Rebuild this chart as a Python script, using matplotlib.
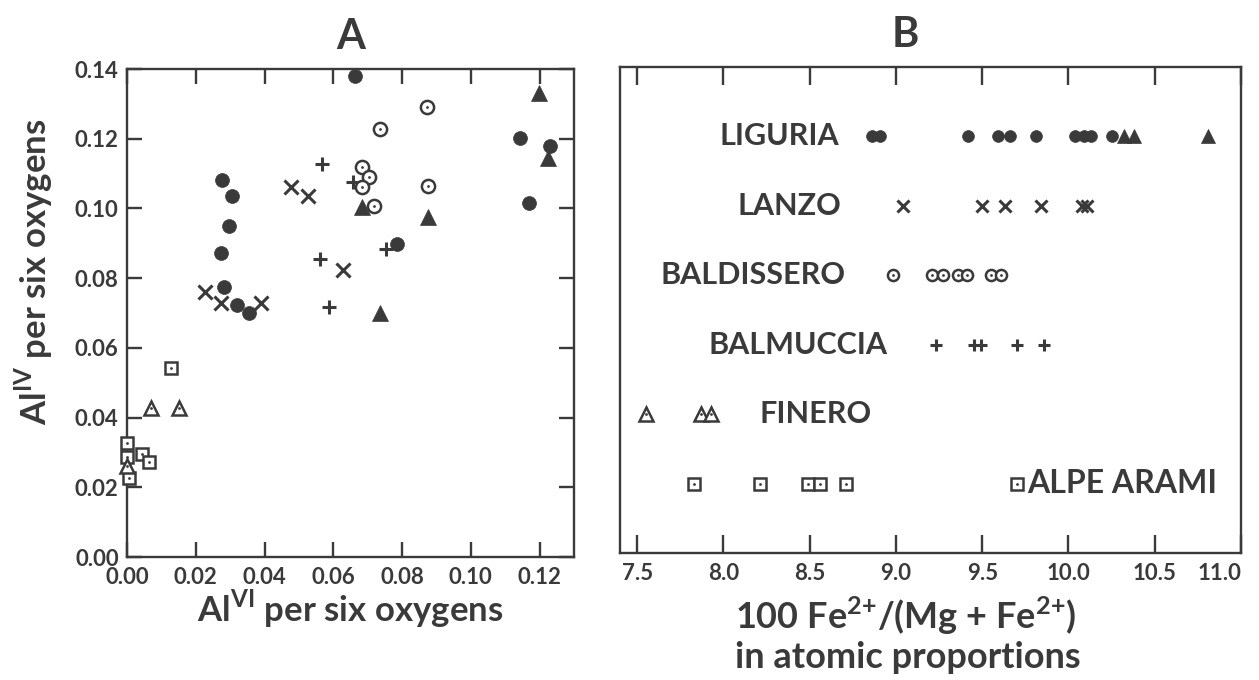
import matplotlib
matplotlib.use("Agg")
import matplotlib.pyplot as plt
from matplotlib.ticker import FormatStrFormatter, MultipleLocator

plt.rcParams['font.family'] = ['Lato', 'DejaVu Sans']
plt.rcParams['font.weight'] = 'bold'
plt.rcParams['axes.labelweight'] = 'bold'
plt.rcParams['mathtext.fontset'] = 'custom'
plt.rcParams['mathtext.rm'] = 'Lato:bold'

ink = '#3a3a3a'

# ---- panel A: AlIV vs AlVI per six oxygens ----
lig_circ_x = [0.0662, 0.1144, 0.1231, 0.1168, 0.0277, 0.0305, 0.0296, 0.0272, 0.0282, 0.0320, 0.0354, 0.0785]
lig_circ_y = [0.1380, 0.1203, 0.1179, 0.1015, 0.1081, 0.1036, 0.0950, 0.0871, 0.0774, 0.0723, 0.0699, 0.0897]
lig_tri_x = [0.1197, 0.1224, 0.0682, 0.0876, 0.0736]
lig_tri_y = [0.1330, 0.1144, 0.1005, 0.0976, 0.0701]
lanzo_x = [0.0477, 0.0526, 0.0627, 0.0226, 0.0274, 0.0390]
lanzo_y = [0.1062, 0.1036, 0.0823, 0.0761, 0.0728, 0.0730]
balm_x = [0.0566, 0.0656, 0.0561, 0.0753, 0.0588]
balm_y = [0.1127, 0.1077, 0.0855, 0.0884, 0.0718]
bald_x = [0.0873, 0.0735, 0.0683, 0.0704, 0.0683, 0.0719, 0.0875]
bald_y = [0.1292, 0.1227, 0.1118, 0.1089, 0.1061, 0.1008, 0.1065]
alpe_x = [0.0127, 0.0001, 0.0001, 0.0043, 0.0065, 0.0007]
alpe_y = [0.0541, 0.0326, 0.0288, 0.0295, 0.0273, 0.0226]
fin_x = [0.0070, 0.0152, 0.0001]
fin_y = [0.0427, 0.0427, 0.0262]

# ---- panel B: 100 Fe/(Mg+Fe) by locality ----
row_names = ['LIGURIA', 'LANZO', 'BALDISSERO', 'BALMUCCIA', 'FINERO', 'ALPE ARAMI']
row_y = [6, 5, 4, 3, 2, 1]
fe_lig_circ = [8.86, 8.91, 9.42, 9.59, 9.66, 9.81, 10.04, 10.09, 10.13, 10.25]
fe_lig_tri = [10.32, 10.38, 10.81]
fe_lanzo = [9.04, 9.50, 9.63, 9.84, 10.08, 10.11]
fe_bald = [8.98, 9.21, 9.27, 9.36, 9.41, 9.55, 9.61]
fe_balm = [9.23, 9.45, 9.49, 9.70, 9.86]
fe_fin = [7.55, 7.87, 7.93]
fe_alpe = [7.83, 8.21, 8.49, 8.56, 8.71]
fe_ticks = [7.5, 8.0, 8.5, 9.0, 9.5, 10.0, 10.5, 11.0]


def filled(ax, x, y, m, ms):
    ax.plot(x, y, ls='none', marker=m, ms=ms, mfc=ink, mec=ink, mew=0.5, clip_on=False, zorder=3)


def line_mark(ax, x, y, m, ms):
    ax.plot(x, y, ls='none', marker=m, ms=ms, color=ink, mew=2.2, clip_on=False, zorder=3)


def dotted(ax, x, y, m, ms):
    ax.plot(x, y, ls='none', marker=m, ms=ms, mfc='white', mec=ink, mew=1.8, clip_on=False, zorder=3)
    ax.plot(x, y, ls='none', marker='o', ms=2.0, color=ink, mew=0, clip_on=False, zorder=4)


fig = plt.figure(figsize=(12.59, 6.80), dpi=100)
axA = fig.add_axes([127 / 1259, 1 - 557 / 680, 447 / 1259, 488 / 680])
axB = fig.add_axes([620 / 1259, 1 - 553 / 680, 621 / 1259, 486 / 680])

for ax in (axA, axB):
    for s in ax.spines.values():
        s.set_linewidth(1.7)
        s.set_color(ink)

# panel A
filled(axA, lig_circ_x, lig_circ_y, 'o', 10)
filled(axA, lig_tri_x, lig_tri_y, '^', 11)
line_mark(axA, lanzo_x, lanzo_y, 'x', 9.5)
line_mark(axA, balm_x, balm_y, '+', 10.5)
dotted(axA, bald_x, bald_y, 'o', 9.5)
dotted(axA, alpe_x, alpe_y, 's', 9)
dotted(axA, fin_x, fin_y, '^', 10)

axA.set_xlim(0, 0.13)
axA.set_ylim(0, 0.14)
axA.xaxis.set_major_locator(MultipleLocator(0.02))
axA.yaxis.set_major_locator(MultipleLocator(0.02))
axA.xaxis.set_major_formatter(FormatStrFormatter('%.2f'))
axA.yaxis.set_major_formatter(FormatStrFormatter('%.2f'))
axA.tick_params(direction='in', length=11, width=1.7, color=ink, top=True, right=True,
                labelsize=16, labelcolor=ink)
axA.tick_params(axis='x', pad=7)
axA.tick_params(axis='y', pad=6)
axA.set_xlabel(r'Al$^{\mathregular{VI}}$ per six oxygens', fontsize=25, color=ink, labelpad=0)
axA.set_ylabel(r'Al$^{\mathregular{IV}}$ per six oxygens', fontsize=25, color=ink)
axA.yaxis.set_label_coords(-0.16, 0.585)
axA.text(0.5, 1.065, 'A', transform=axA.transAxes, ha='center', va='center', fontsize=30, color=ink)

# panel B
filled(axB, fe_lig_circ, [row_y[0]] * len(fe_lig_circ), 'o', 8.5)
filled(axB, fe_lig_tri, [row_y[0]] * len(fe_lig_tri), '^', 9.5)
line_mark(axB, fe_lanzo, [row_y[1]] * len(fe_lanzo), 'x', 8.5)
dotted(axB, fe_bald, [row_y[2]] * len(fe_bald), 'o', 8)
line_mark(axB, fe_balm, [row_y[3]] * len(fe_balm), '+', 9)
dotted(axB, fe_fin, [row_y[4]] * len(fe_fin), '^', 9.5)
dotted(axB, fe_alpe, [row_y[5]] * len(fe_alpe), 's', 8)

lab_kw = dict(fontsize=22, color=ink, va='center')
axB.text(8.67, row_y[0], row_names[0], ha='right', **lab_kw)
axB.text(8.68, row_y[1], row_names[1], ha='right', **lab_kw)
axB.text(8.71, row_y[2], row_names[2], ha='right', **lab_kw)
axB.text(8.95, row_y[3], row_names[3], ha='right', **lab_kw)
axB.text(8.21, row_y[4], row_names[4], ha='left', **lab_kw)
dotted(axB, [9.70], [row_y[5]], 's', 8)
axB.text(9.76, row_y[5], row_names[5], ha='left', fontsize=23, color=ink, va='center')

axB.set_xlim(7.4, 11.0)
axB.set_ylim(0, 7)
axB.set_xticks(fe_ticks, labels=['%.1f' % t for t in fe_ticks])
axB.get_xticklabels()[-1].set_ha('right')
axB.set_yticks([])
axB.tick_params(axis='x', direction='in', length=13, width=1.7, color=ink, top=True,
                labelsize=16, labelcolor=ink, pad=7)
axB.text(0.459, 1.065, 'B', transform=axB.transAxes, ha='center', va='center', fontsize=30, color=ink)

fig.text(735 / 1259, 1 - 616 / 680, r'100 Fe$^{\mathregular{2{+}}}$/(Mg + Fe$^{\mathregular{2{+}}}$)',
         ha='left', va='center', fontsize=26, color=ink)
fig.text(735 / 1259, 1 - 657 / 680, 'in atomic proportions',
         ha='left', va='center', fontsize=26, color=ink)

fig.savefig('out.png', dpi=100)
